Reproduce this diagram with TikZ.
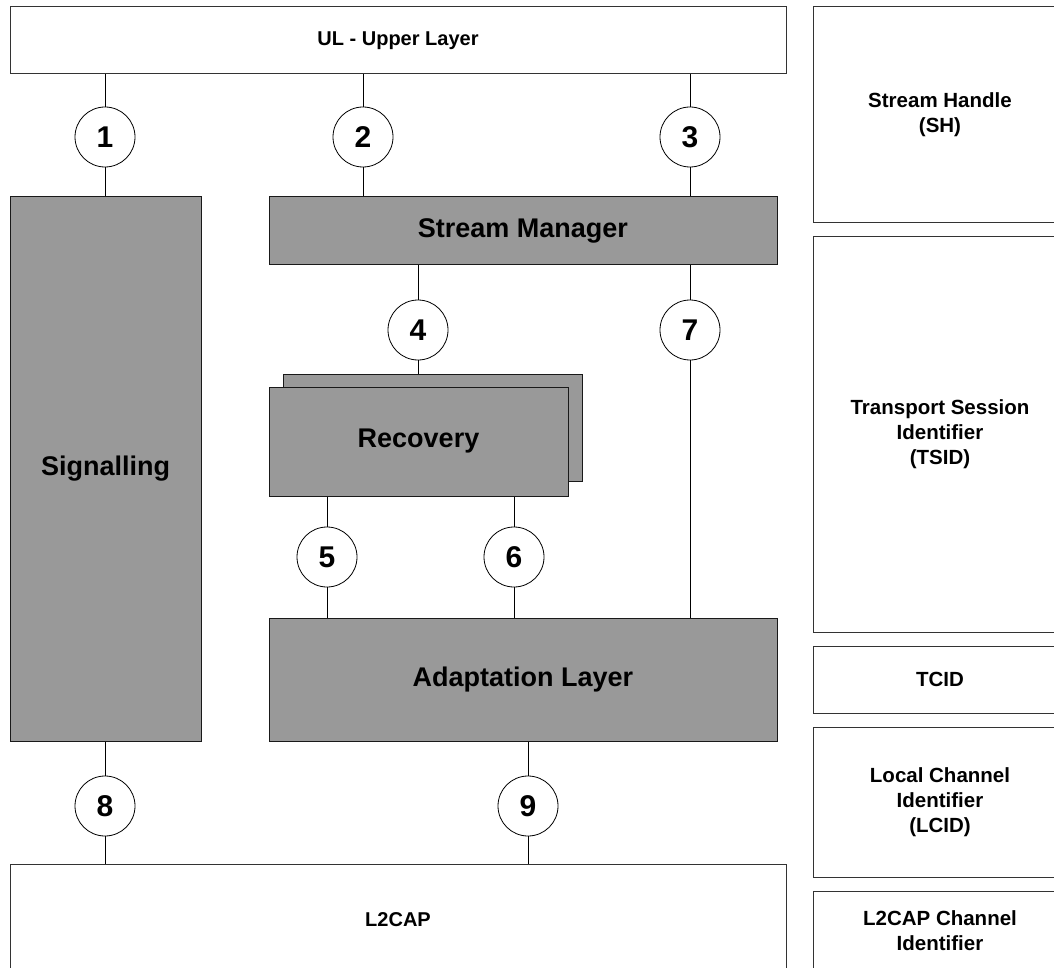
\documentclass[tikz,border=0pt]{standalone}
\usepackage{fontspec}
\setmainfont{Liberation Sans}
\begin{document}
\begin{tikzpicture}[x=1pt,y=-1pt,
  box/.style={draw=black!80, line width=1pt, fill=white, inner sep=0pt, font=\bfseries\fontsize{20.5}{25}\selectfont, align=center},
  gbox/.style={box, fill=black!40, draw=black!90, font=\bfseries\fontsize{27}{30}\selectfont},
  num/.style={circle, draw=black, line width=0.8pt, fill=white, minimum size=60pt, inner sep=0pt, font=\bfseries\fontsize{30}{32}\selectfont},
  link/.style={draw=black, line width=1pt}]
\clip (0,0) rectangle (1054,968);
\useasboundingbox (0,0) rectangle (1054,968);
% outer layers
\node[box, minimum width=776pt, minimum height=67pt, font=\bfseries\fontsize{20}{24}\selectfont] (ul) at (398,40.5) {UL - Upper Layer};
\node[box, minimum width=776pt, minimum height=112pt, font=\bfseries\fontsize{20}{24}\selectfont] (l2cap) at (398,920) {L2CAP};
% right column
\node[box, minimum width=254pt, minimum height=216pt] (sh) at (940,115) {Stream Handle\\(SH)};
\node[box, minimum width=254pt, minimum height=395pt] (tsid) at (940,434.5) {Transport Session\\Identifier\\(TSID)};
\node[box, minimum width=254pt, minimum height=67pt] (tcid) at (940,679.5) {TCID};
\node[box, minimum width=254pt, minimum height=150pt] (lcid) at (940,802) {Local Channel\\Identifier\\(LCID)};
\node[box, minimum width=254pt, minimum height=80pt] (lci) at (940,931) {L2CAP Channel\\Identifier};
% grey blocks
\node[gbox, minimum width=191pt, minimum height=544pt] (sig) at (105.5,469) {Signalling};
\node[gbox, minimum width=508pt, minimum height=68pt] (sm) at (523,231) {Stream Manager};
\node[gbox, minimum width=299pt, minimum height=107pt] (recb) at (432.5,427.5) {};
\node[gbox, minimum width=299pt, minimum height=109pt] (rec) at (418.5,441.5) {Recovery};
\node[gbox, minimum width=508pt, minimum height=123pt] (ad) at (523,679.5) {Adaptation Layer};
% interface circles
\node[num] (c1) at (105,137) {1};
\node[num] (c2) at (363,137) {2};
\node[num] (c3) at (690,137) {3};
\node[num] (c4) at (418,330) {4};
\node[num] (c7) at (690,330) {7};
\node[num] (c5) at (327,557) {5};
\node[num] (c6) at (514,557) {6};
\node[num] (c8) at (105,806) {8};
\node[num] (c9) at (528,806) {9};
% connectors
\draw[link] (c1) -- (c1 |- ul.south);  \draw[link] (c1) -- (c1 |- sig.north);
\draw[link] (c2) -- (c2 |- ul.south);  \draw[link] (c2) -- (c2 |- sm.north);
\draw[link] (c3) -- (c3 |- ul.south);  \draw[link] (c3) -- (c3 |- sm.north);
\draw[link] (c4) -- (c4 |- sm.south);  \draw[link] (c4) -- (c4 |- recb.north);
\draw[link] (c7) -- (c7 |- sm.south);  \draw[link] (c7) -- (c7 |- ad.north);
\draw[link] (c5) -- (c5 |- rec.south); \draw[link] (c5) -- (c5 |- ad.north);
\draw[link] (c6) -- (c6 |- rec.south); \draw[link] (c6) -- (c6 |- ad.north);
\draw[link] (c8) -- (c8 |- sig.south); \draw[link] (c8) -- (c8 |- l2cap.north);
\draw[link] (c9) -- (c9 |- ad.south);  \draw[link] (c9) -- (c9 |- l2cap.north);
\end{tikzpicture}
\end{document}
